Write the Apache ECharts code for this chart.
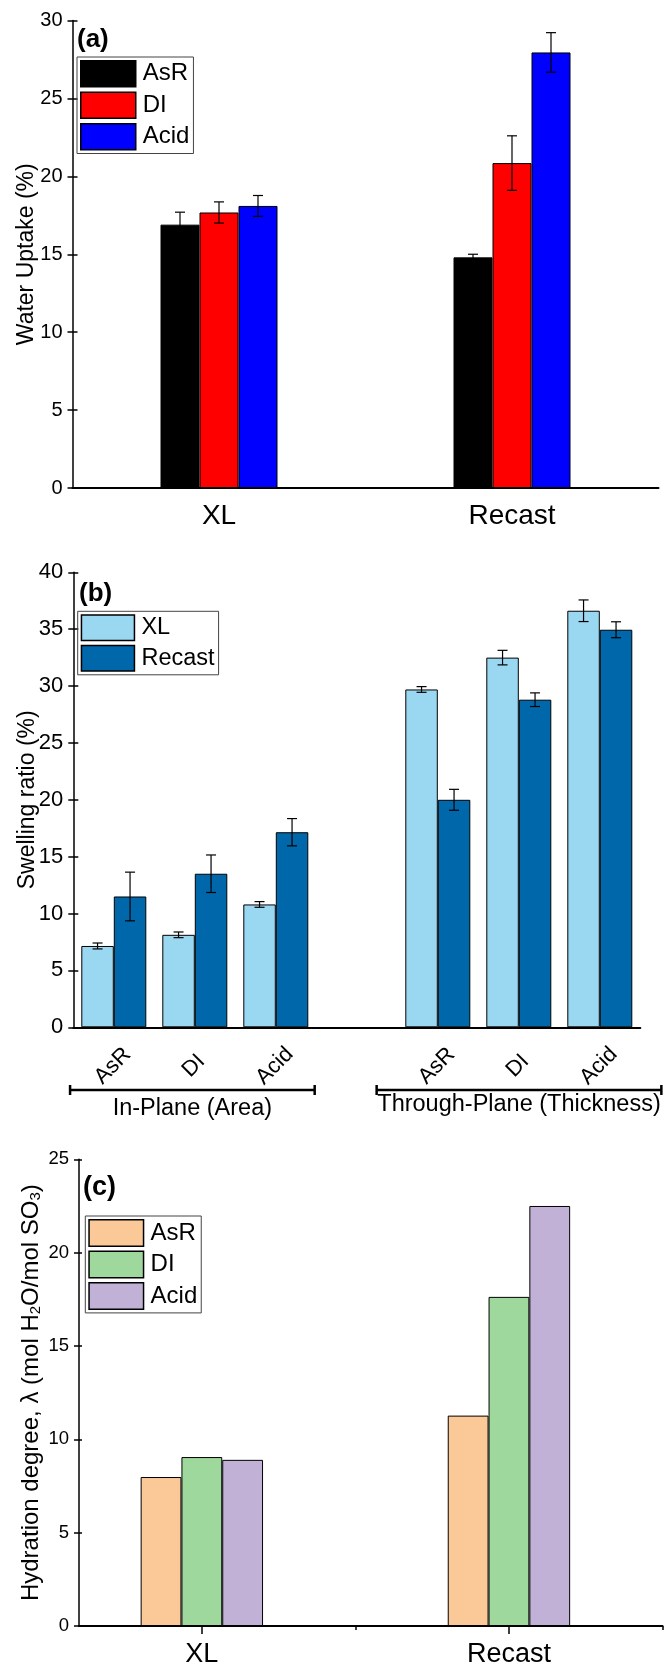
<!DOCTYPE html>
<html>
<head>
<meta charset="utf-8">
<script src="https://cdn.jsdelivr.net/npm/echarts@6/dist/echarts.min.js"></script>
<style>
html, body { margin: 0; padding: 0; background: #fff; }
#main { width: 664px; height: 1668px; }
</style>
</head>
<body>
<div id="main"></div>
<script>
var FONT = 'Liberation Sans, Arial, sans-serif';

// (a) water uptake
var uptakeCats = ['XL', 'Recast'];
var uptakeNames = ['AsR', 'DI', 'Acid'];
var uptakeAsR = [16.9, 14.8];
var uptakeDI = [17.68, 20.85];
var uptakeAcid = [18.1, 27.95];
var uptakeAsRErr = [0.8, 0.2];
var uptakeDIErr = [0.68, 1.75];
var uptakeAcidErr = [0.67, 1.27];
var uptakeColors = ['#000000', '#ff0000', '#0000ff'];

// (b) swelling ratio
var swellCats = ['AsR', 'DI', 'Acid', '', 'AsR', 'DI', 'Acid'];
var swellNames = ['XL', 'Recast'];
var swellXL = [7.15, 8.13, 10.8, null, 29.7, 32.5, 36.62];
var swellRecast = [11.5, 13.5, 17.15, null, 20.0, 28.8, 34.95];
var swellXLErr = [0.26, 0.25, 0.25, null, 0.25, 0.64, 0.95];
var swellRecastErr = [2.14, 1.65, 1.2, null, 0.92, 0.6, 0.7];
var swellColors = ['#9ad7f1', '#0067ab'];
var swellGroups = ['In-Plane (Area)', 'Through-Plane (Thickness)'];

// (c) hydration degree
var hydCats = ['XL', 'Recast'];
var hydPos = [1, 2];
var hydNames = ['AsR', 'DI', 'Acid'];
var hydAsR = [7.98, 11.27];
var hydDI = [9.05, 17.63];
var hydAcid = [8.9, 22.5];
var hydColors = ['#fbc898', '#9fd89d', '#c2b1d6'];

var myChart = echarts.init(document.getElementById('main'));

function errBars(xIdx, yIdx, vals, errs, offset) {
    var data = [];
    vals.forEach(function (v, i) {
        if (v != null) data.push([i, v, errs[i]]);
    });
    return {
        type: 'custom',
        xAxisIndex: xIdx,
        yAxisIndex: yIdx,
        z: 10,
        silent: true,
        data: data,
        renderItem: function (params, api) {
            var x = api.value(0), y = api.value(1), e = api.value(2);
            var hi = api.coord([x, y + e]);
            var lo = api.coord([x, y - e]);
            var cx = hi[0] + offset;
            var cap = 5;
            var st = { stroke: '#000', lineWidth: 1.2 };
            return {
                type: 'group',
                children: [
                    { type: 'line', shape: { x1: cx, y1: hi[1], x2: cx, y2: lo[1] }, style: st },
                    { type: 'line', shape: { x1: cx - cap, y1: hi[1], x2: cx + cap, y2: hi[1] }, style: st },
                    { type: 'line', shape: { x1: cx - cap, y1: lo[1], x2: cx + cap, y2: lo[1] }, style: st }
                ]
            };
        }
    };
}

function yAxisPair(grid, max, labelSize, name, nameGap, nameStyle, innerLen) {
    return [{
        type: 'value', gridIndex: grid, position: 'left', min: 0, max: max, interval: 5,
        name: name, nameLocation: 'middle', nameRotate: 90, nameGap: nameGap,
        nameMoveOverlap: false,
        nameTextStyle: nameStyle,
        axisLine: { show: true, onZero: false, lineStyle: { color: '#000', width: 1.5 } },
        axisTick: { show: true, inside: false, length: 5, lineStyle: { color: '#000', width: 1.5 } },
        axisLabel: { fontSize: labelSize, fontFamily: FONT, color: '#000', margin: 10 },
        splitLine: { show: false }
    }, {
        type: 'value', gridIndex: grid, position: 'left', min: 0, max: max, interval: 5,
        axisLine: { show: false, onZero: false },
        axisTick: { show: true, inside: true, length: innerLen, lineStyle: { color: '#000', width: 1.5 } },
        axisLabel: { show: false },
        splitLine: { show: false }
    }];
}

var legendBase = {
    orient: 'vertical', icon: 'rect', selectedMode: false,
    borderColor: '#444', borderWidth: 1,
    itemStyle: { borderColor: '#000', borderWidth: 1.5 }
};
function legendText(size) {
    return { fontSize: size, fontFamily: FONT, color: '#000', padding: [0, 0, 0, 2] };
}

var yA = yAxisPair(0, 30, 20, 'Water Uptake (%)', 34, { fontSize: 23, fontFamily: FONT, color: '#000' }, 5);
var yB = yAxisPair(1, 40, 22, 'Swelling ratio (%)', 34, { fontSize: 23, fontFamily: FONT, color: '#000' }, 5);
var yC = yAxisPair(2, 25, 18.5, 'Hydration degree, λ (mol H{sub|2}O/mol SO{sub|3})', 36, {
    fontSize: 24, fontFamily: FONT, color: '#000',
    rich: { sub: { fontSize: 15, fontFamily: FONT, color: '#000', verticalAlign: 'bottom', lineHeight: 12 } }
}, 3);

var uptakeVals = [uptakeAsR, uptakeDI, uptakeAcid];
var uptakeErrs = [uptakeAsRErr, uptakeDIErr, uptakeAcidErr];
var swellVals = [swellXL, swellRecast];
var swellErrs = [swellXLErr, swellRecastErr];
var hydVals = [hydAsR, hydDI, hydAcid];

var series = [];
uptakeVals.forEach(function (vals, s) {
    series.push({
        type: 'bar', name: uptakeNames[s], xAxisIndex: 0, yAxisIndex: 0,
        data: vals, barWidth: 39, barGap: '0%',
        itemStyle: { color: uptakeColors[s], borderColor: '#000', borderWidth: 1 }
    });
    series.push(errBars(0, 0, vals, uptakeErrs[s], (s - 1) * 39));
});
swellVals.forEach(function (vals, s) {
    series.push({
        type: 'bar', name: swellNames[s], xAxisIndex: 2, yAxisIndex: 2,
        data: vals, barWidth: 32.5, barGap: '0%',
        itemStyle: { color: swellColors[s], borderColor: '#000', borderWidth: 1 }
    });
    series.push(errBars(2, 2, vals, swellErrs[s], (s - 0.5) * 32.5));
});
hydVals.forEach(function (vals, s) {
    series.push({
        type: 'bar', name: 'λ-' + hydNames[s], xAxisIndex: 3, yAxisIndex: 4,
        data: vals.map(function (v, i) { return [hydPos[i], v]; }),
        barWidth: 40.8, barGap: '0%',
        itemStyle: { color: hydColors[s], borderColor: '#000', borderWidth: 1 }
    });
});

option = {
    animation: false,
    backgroundColor: '#fff',
    textStyle: { fontFamily: FONT },
    grid: [
        { left: 72.5, top: 20.5, width: 586, height: 467.5, outerBoundsMode: 'none' },
        { left: 73.3, top: 572.3, width: 567, height: 455, outerBoundsMode: 'none' },
        { left: 79, top: 1159.3, width: 583.5, height: 466.7, outerBoundsMode: 'none' }
    ],
    legend: [
        Object.assign({}, legendBase, {
            data: uptakeNames, left: 77, top: 57, itemWidth: 55, itemHeight: 26, itemGap: 4,
            padding: [3, 4, 3, 3], textStyle: legendText(24)
        }),
        Object.assign({}, legendBase, {
            data: swellNames, left: 77.7, top: 611.3, itemWidth: 53, itemHeight: 25.5, itemGap: 3.5,
            padding: [3, 4, 3, 3], textStyle: legendText(23.5)
        }),
        Object.assign({}, legendBase, {
            data: hydNames.map(function (n) { return 'λ-' + n; }),
            formatter: function (n) { return n.replace('λ-', ''); },
            left: 85.3, top: 1216, itemWidth: 54.5, itemHeight: 26.4, itemGap: 3.6,
            padding: [3, 4, 3, 3], textStyle: legendText(24)
        })
    ],
    xAxis: [
        {
            type: 'category', gridIndex: 0, position: 'bottom', data: uptakeCats,
            axisLine: { onZero: false, lineStyle: { color: '#000', width: 2 } },
            axisTick: { alignWithLabel: true, length: 8, lineStyle: { color: '#000', width: 1.5 } },
            axisLabel: { fontSize: 28, fontFamily: FONT, color: '#000', margin: 14 }
        },
        {
            type: 'category', gridIndex: 0, position: 'bottom', data: uptakeCats,
            axisLine: { show: false, onZero: false },
            axisTick: { alignWithLabel: false, interval: 0, length: 4, lineStyle: { color: '#000', width: 1.5 } },
            axisLabel: { show: false }
        },
        {
            // labels of this axis are drawn rotated about their centre further down
            type: 'category', gridIndex: 1, position: 'bottom', data: swellCats,
            axisLine: { onZero: false, lineStyle: { color: '#000', width: 2 } },
            axisTick: { alignWithLabel: true, interval: 0, length: 8, lineStyle: { color: '#000', width: 1.5 } },
            axisLabel: { show: false }
        },
        {
            type: 'value', gridIndex: 2, position: 'bottom', min: 0.6, max: 2.5,
            axisLine: { onZero: false, lineStyle: { color: '#000', width: 2 } },
            axisTick: { length: 8, customValues: hydPos, lineStyle: { color: '#000', width: 1.5 } },
            axisLabel: {
                customValues: hydPos, fontSize: 27, fontFamily: FONT, color: '#000', margin: 15,
                formatter: function (v) { return hydCats[Math.round(v) - 1]; }
            },
            splitLine: { show: false }
        },
        {
            type: 'value', gridIndex: 2, position: 'bottom', min: 0.6, max: 2.5,
            axisLine: { show: false, onZero: false },
            axisTick: { length: 4, customValues: [1.5, 2.5], lineStyle: { color: '#000', width: 1.5 } },
            axisLabel: { show: false },
            splitLine: { show: false }
        }
    ],
    yAxis: yA.concat(yB, yC),
    series: series
};

myChart.setOption(option);

// panel letters, rotated tick labels and group brackets under (b)
var px = function (i) { return myChart.convertToPixel({ xAxisIndex: 2 }, i); };
var band = px(1) - px(0);
var brY = 1090;
var spans = [[px(0) - 0.54 * band, px(2) + 0.48 * band], [px(4) - 0.755 * band, px(6) + 0.76 * band]];
var textY = [1109, 1105];
var graphics = [
    { type: 'text', x: 77, y: 40, style: { text: '(a)', font: 'bold 26px ' + FONT, fill: '#000', verticalAlign: 'middle' } },
    { type: 'text', x: 79, y: 594, style: { text: '(b)', font: 'bold 26px ' + FONT, fill: '#000', verticalAlign: 'middle' } },
    { type: 'text', x: 83, y: 1188, style: { text: '(c)', font: 'bold 27px ' + FONT, fill: '#000', verticalAlign: 'middle' } }
];
swellCats.forEach(function (lab, i) {
    if (!lab) return;
    graphics.push({
        type: 'text', x: px(i) - 1, y: 1066, rotation: Math.PI / 4,
        style: { text: lab, font: '22px ' + FONT, fill: '#000', align: 'center', verticalAlign: 'middle' }
    });
});
spans.forEach(function (sp, k) {
    var st = { stroke: '#000', lineWidth: 2.5 };
    graphics.push({ type: 'line', shape: { x1: sp[0], y1: brY, x2: sp[1], y2: brY }, style: st });
    graphics.push({ type: 'line', shape: { x1: sp[0], y1: brY - 5, x2: sp[0], y2: brY + 5 }, style: st });
    graphics.push({ type: 'line', shape: { x1: sp[1], y1: brY - 5, x2: sp[1], y2: brY + 5 }, style: st });
    graphics.push({
        type: 'text', x: (sp[0] + sp[1]) / 2, y: textY[k],
        style: { text: swellGroups[k], font: '23.5px ' + FONT, fill: '#000', align: 'center', verticalAlign: 'middle' }
    });
});
myChart.setOption({ graphic: graphics });
</script>
</body>
</html>
